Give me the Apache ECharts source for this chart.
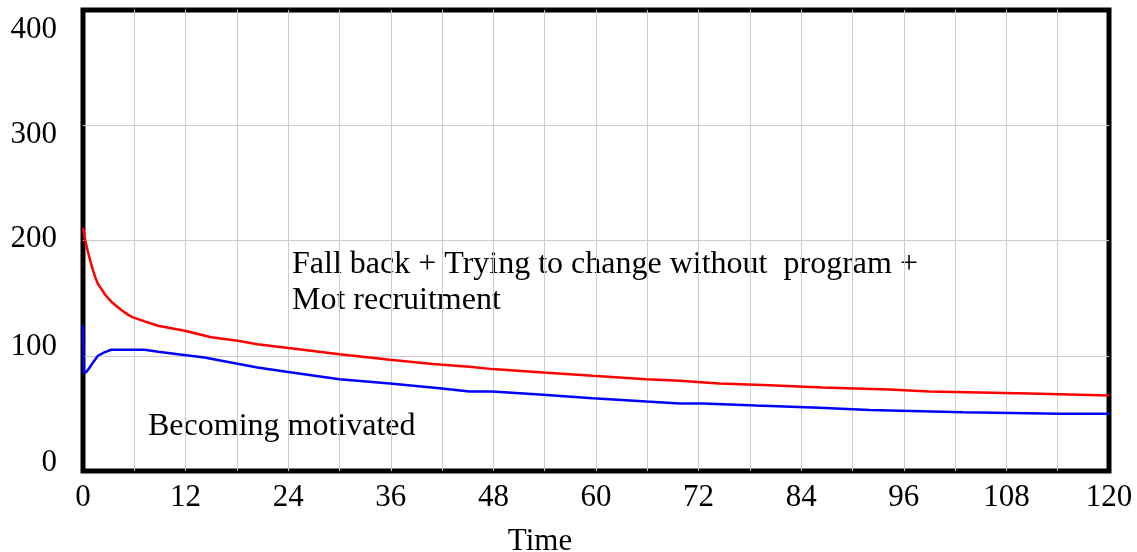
<!DOCTYPE html>
<html>
<head>
<meta charset="utf-8">
<script src="https://cdn.jsdelivr.net/npm/echarts@6/dist/echarts.min.js"></script>
<style>
html,body{margin:0;padding:0;background:#fff;}
#chart{width:1137px;height:552px;}
</style>
</head>
<body>
<div id="chart"></div>
<script>
// ---- data ----
const xTickLabels = [0, 12, 24, 36, 48, 60, 72, 84, 96, 108, 120];
const yTickLabels = [0, 100, 200, 300, 400];

const redTime  = [0, 0.27, 0.58, 0.9, 1.17, 1.44, 1.75, 2.14, 2.53, 2.92, 3.31, 3.9, 4.48, 5.26, 5.84, 6.62, 7.2, 8.76, 11.9, 15, 18.1, 20.4, 23.8, 30, 35.9, 40.9, 45.2, 47.9, 53.8, 59.6, 65.9, 69.8, 74.4, 80.3, 86.5, 94.3, 99, 110.7, 120];
const redValue = [211, 200, 190, 181, 174, 168, 162.3, 158, 153.6, 150.1, 146.9, 143.2, 139.7, 135.7, 133.3, 131.3, 129.8, 126, 121.7, 116, 113, 110, 107, 101.4, 96.5, 92.8, 90.5, 88.4, 85.5, 82.6, 79.7, 78.3, 75.9, 74.5, 72.5, 70.7, 69, 67.2, 65.5];

const blueTime  = [0, 0.1, 0.4, 0.8, 1.17, 1.75, 2.5, 3.3, 7.2, 8.8, 11.1, 14.2, 17.3, 20.4, 23.8, 30, 35.9, 41.7, 45.2, 47.9, 53.8, 59.6, 65.9, 69.8, 72.5, 78.7, 86.1, 92, 102.9, 114.2, 120];
const blueValue = [127, 85, 86, 90, 94.2, 100, 102.9, 105.2, 105.2, 103.5, 101.4, 98.5, 94.2, 89.8, 86.1, 79.7, 75.9, 71.9, 69, 69, 66.1, 63.2, 60.3, 58.6, 58.6, 56.8, 54.8, 53, 51, 49.6, 49.6];

const redName  = 'Fall back + Trying to change without  program +';
const redName2 = 'Mot recruitment';
const blueName = 'Becoming motivated';
const xName = 'Time';

const zip = (a, b) => a.map((t, i) => [t, b[i]]);
const serif = '"Liberation Serif", "Times New Roman", serif';

// vertical label offsets (px, + = down) as drawn in the reference
const yLabelShift = {0: -8, 100: -9, 200: -2, 300: 10, 400: 20};
const yRich = {};
yTickLabels.forEach(v => {
  const d = yLabelShift[v];
  yRich['l' + v] = {
    fontSize: 31, fontFamily: serif, color: '#000',
    padding: d >= 0 ? [2 * d, 0, 0, 0] : [0, 0, -2 * d, 0]
  };
});

const chart = echarts.init(document.getElementById('chart'), null, {renderer: 'canvas'});
chart.setOption({
  backgroundColor: '#ffffff',
  animation: false,
  grid: {
    left: 83, right: 28, top: 10, bottom: 81,
    outerBoundsMode: 'none', containLabel: false,
    show: true, borderColor: '#000', borderWidth: 5, backgroundColor: 'transparent'
  },
  xAxis: {
    type: 'value', min: 0, max: 120, interval: 6,
    axisLine: {show: false}, axisTick: {show: false},
    axisLabel: {
      margin: 11, fontSize: 31, fontFamily: serif, color: '#000',
      formatter: v => (xTickLabels.indexOf(v) >= 0 ? String(v) : '')
    },
    splitLine: {show: true, showMinLine: false, showMaxLine: false, lineStyle: {color: '#cccccc', width: 1}},
    name: xName, nameLocation: 'middle', nameGap: 55,
    nameTextStyle: {fontSize: 31, fontFamily: serif, color: '#000', padding: [0, 112, 0, 0]}
  },
  yAxis: {
    type: 'value', min: 0, max: 400, interval: 100,
    axisLine: {show: false}, axisTick: {show: false},
    axisLabel: {
      margin: 26, fontSize: 31, fontFamily: serif, color: '#000',
      formatter: v => '{l' + v + '|' + v + '}',
      rich: yRich
    },
    splitLine: {show: true, showMinLine: false, showMaxLine: false, lineStyle: {color: '#cccccc', width: 1}}
  },
  series: [
    {
      name: redName, type: 'line',
      data: zip(redTime, redValue), showSymbol: false, symbol: 'none',
      lineStyle: {color: '#ff0000', width: 2.5}, z: 5
    },
    {
      name: blueName, type: 'line',
      data: zip(blueTime, blueValue), showSymbol: false, symbol: 'none',
      lineStyle: {color: '#0000ff', width: 2.5}, z: 5
    }
  ],
  graphic: [
    {type: 'text', left: 292, top: 249, style: {text: redName, font: '32px ' + serif, fill: '#000'}},
    {type: 'text', left: 292, top: 285, style: {text: redName2, font: '32px ' + serif, fill: '#000'}},
    {type: 'text', left: 148, top: 411, style: {text: blueName, font: '32px ' + serif, fill: '#000'}}
  ]
});
</script>
</body>
</html>
